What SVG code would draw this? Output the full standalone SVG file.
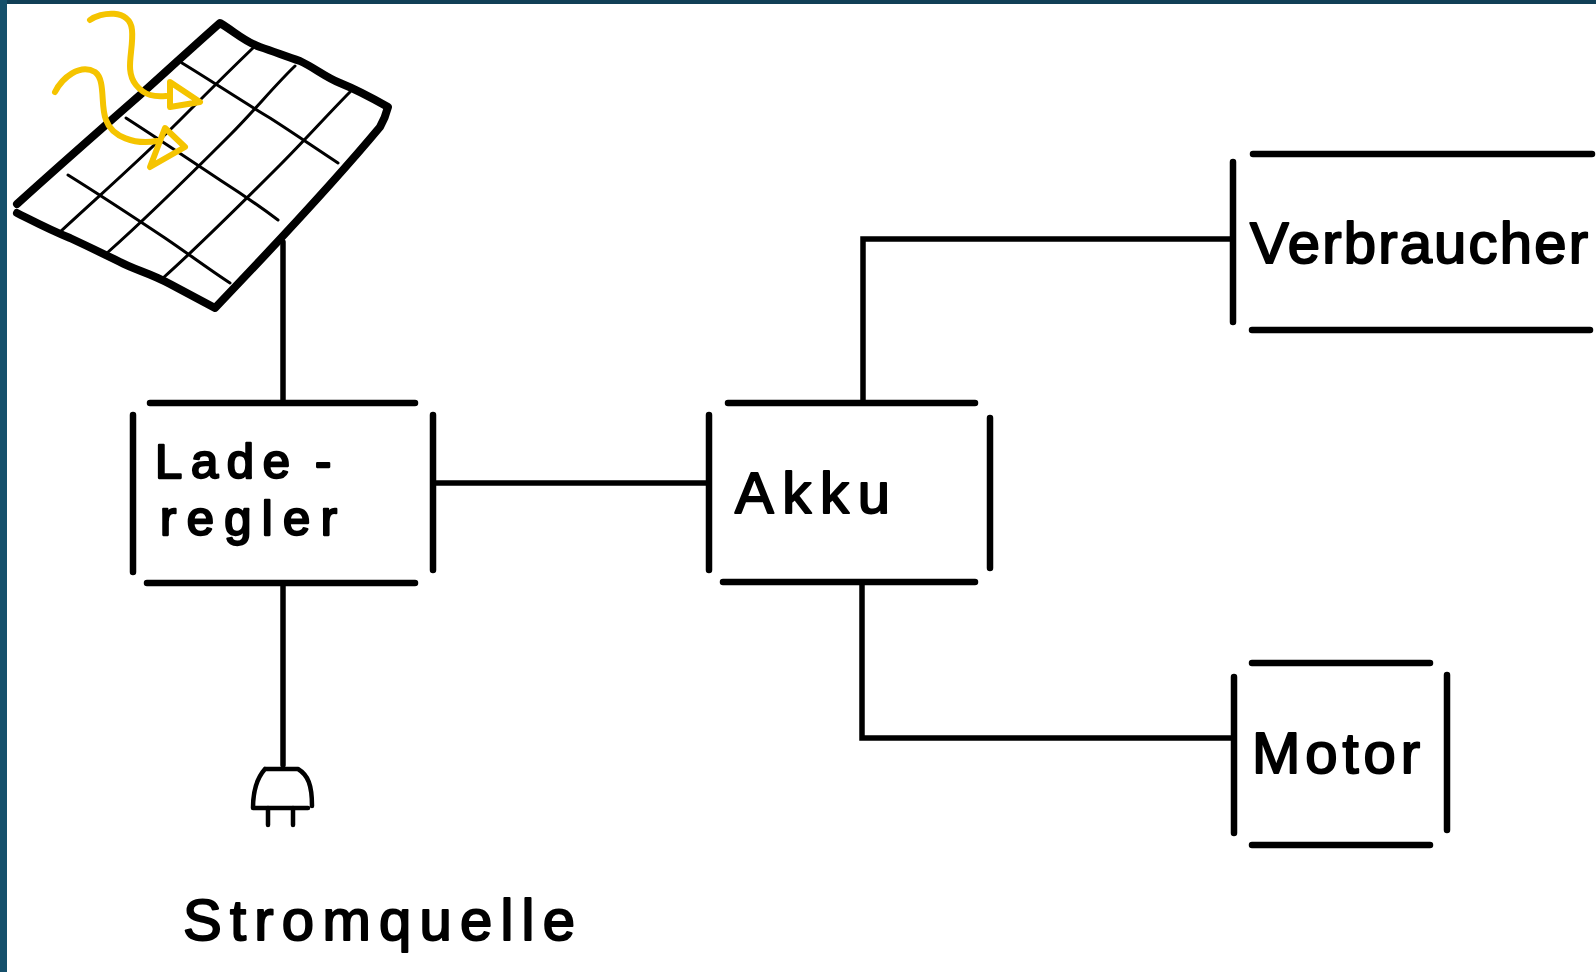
<svg xmlns="http://www.w3.org/2000/svg" width="1596" height="972" viewBox="0 0 1596 972">
<style>
.bx{stroke:#000;stroke-width:6.5;stroke-linecap:round;fill:none}
.cn{stroke:#000;stroke-width:5.5;stroke-linecap:round;stroke-linejoin:miter;fill:none}
.pl{stroke:#000;stroke-width:4.5;stroke-linecap:round;stroke-linejoin:round;fill:none}
.gr{stroke:#000;stroke-width:3;stroke-linecap:round;fill:none}
.pn{stroke:#000;stroke-width:8;stroke-linecap:round;stroke-linejoin:round;fill:none}
.sun{stroke:#f5c400;stroke-width:6;stroke-linecap:round;stroke-linejoin:round;fill:none}
.t{font-family:"Liberation Sans",Arial,sans-serif;font-size:58px;fill:#000;stroke:#000;stroke-width:2;stroke-linejoin:round}
.t2{font-size:49px;stroke-width:2.3}
</style>
<rect x="0" y="0" width="1596" height="972" fill="#ffffff"/>
<rect x="0" y="0" width="1596" height="4" fill="#113f56"/>
<rect x="0" y="0" width="7" height="972" fill="#15506b"/>

<g id="connectors">
<path class="cn" d="M283,242 V403"/>
<path class="cn" d="M283,583 V765"/>
<path class="cn" d="M433,483 H709"/>
<path class="cn" d="M863,403 V239 H1233"/>
<path class="cn" d="M862,582 V738 H1234"/>
</g>

<g id="solarpanel">
<path class="pn" d="M17,204 C60,165 100,130 140,95 C170,68 195,45 220,23 C235,32 245,42 260,47 C275,52 285,56 300,61 C315,68 325,77 340,83 C355,89 365,94 388,107 C386,115 384,120 380,127 C340,175 280,240 215,308 C200,300 185,292 170,284 C150,273 135,270 120,262 C100,252 85,245 70,238 C50,230 35,222 17,213"/>
<path class="gr" d="M60,232 C100,195 140,160 180,120 C205,95 230,70 253,48"/>
<path class="gr" d="M107,253 C150,215 190,175 230,135 C255,110 275,85 295,66"/>
<path class="gr" d="M163,278 C200,245 240,205 280,165 C305,140 330,112 350,92"/>
<path class="gr" d="M182,63 C210,80 240,100 270,118 C295,134 318,150 338,163"/>
<path class="gr" d="M126,118 C160,140 190,160 220,180 C245,196 262,208 278,220"/>
<path class="gr" d="M68,175 C100,195 135,218 165,238 C190,255 210,270 230,283"/>
</g>

<g id="sunrays">
<path class="sun" d="M90,20 C100,12 130,8 132,30 C134,50 124,70 136,85 C145,96 155,97 166,96"/>
<path class="sun" d="M170,82 L200,102 L170,107 Z"/>
<path class="sun" d="M55,92 C62,78 80,63 95,72 C106,80 100,105 106,120 C112,137 135,145 157,141"/>
<path class="sun" d="M165,128 L185,147 L150,167 Z"/>
</g>

<g id="laderegler">
<path class="bx" d="M150,403 H415 M147,583 H415 M133,415 V572 M433,415 V570"/>
<text class="t t2"><tspan x="155" y="478" textLength="135" lengthAdjust="spacing">Lade</tspan><tspan x="315" y="478">-</tspan><tspan x="160" y="535" textLength="177" lengthAdjust="spacing">regler</tspan></text>
</g>

<g id="akku">
<path class="bx" d="M728,403 H975 M723,582 H975 M709,415 V570 M990,418 V568"/>
<text class="t" x="735" y="513" textLength="155" lengthAdjust="spacing">Akku</text>
</g>

<g id="verbraucher">
<path class="bx" d="M1253,154 H1592 M1252,330 H1590 M1233,162 V322"/>
<text class="t" x="1250" y="263" textLength="338" lengthAdjust="spacing">Verbraucher</text>
</g>

<g id="motor">
<path class="bx" d="M1252,663 H1430 M1252,845 H1430 M1234,677 V833 M1447,675 V830"/>
<text class="t" x="1252" y="773" textLength="168" lengthAdjust="spacing">Motor</text>
</g>

<g id="stromquelle">
<path class="pl" d="M265,769 H298 C308,775 312,785 312,806 M265,769 C257,778 253,792 253,808 H308"/>
<path class="pl" d="M268,808 V825 M293,808 V825"/>
<text class="t" x="183" y="940" textLength="392" lengthAdjust="spacing">Stromquelle</text>
</g>
</svg>
